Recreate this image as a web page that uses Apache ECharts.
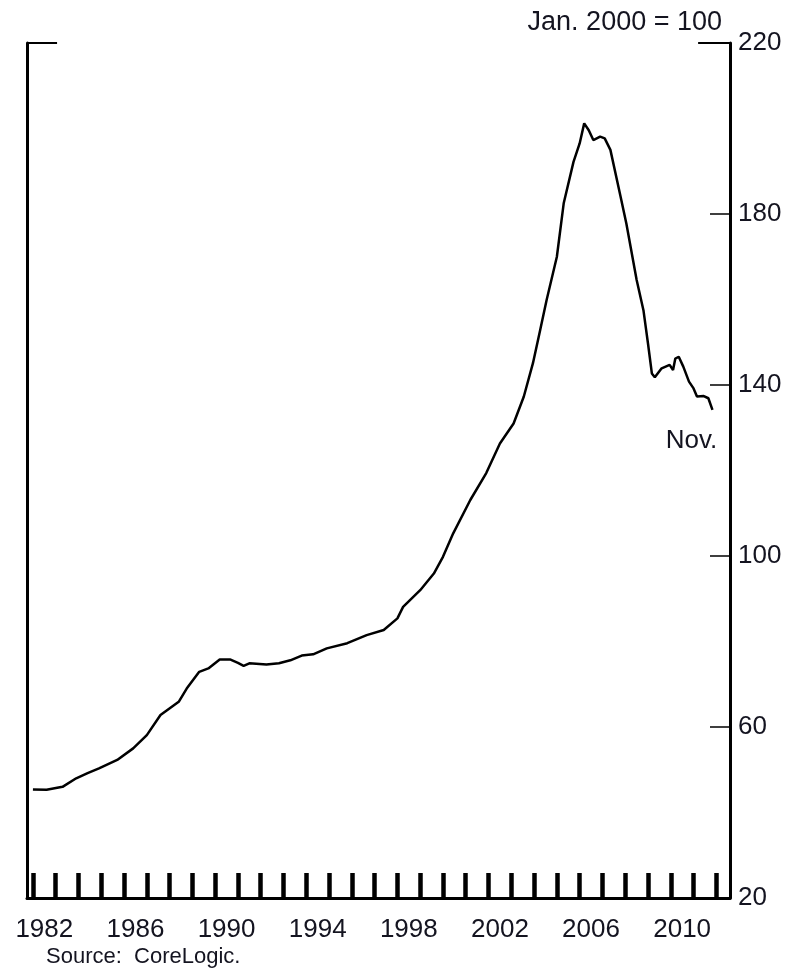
<!DOCTYPE html>
<html>
<head>
<meta charset="utf-8">
<script src="https://cdn.jsdelivr.net/npm/echarts@6/dist/echarts.min.js"></script>
<style>
html,body{margin:0;padding:0;background:#fff;}
#chart{width:808px;height:971px;}
</style>
</head>
<body>
<div id="chart"></div>
<script>
// Decimal-year dates and house price index values (Jan. 2000 = 100)
const dates = [
  1982.0, 1982.6, 1983.3, 1983.9, 1984.4, 1984.9, 1985.7, 1986.4, 1987.0, 1987.6,
  1988.4, 1988.75, 1989.3, 1989.7, 1990.2, 1990.65, 1991.0, 1991.25, 1991.5, 1992.25,
  1992.8, 1993.3, 1993.8, 1994.3, 1994.9, 1995.8, 1996.65, 1997.4, 1998.0, 1998.25,
  1999.0, 1999.6, 2000.0, 2000.45, 2001.2, 2001.9, 2002.5, 2003.1, 2003.55, 2003.95,
  2004.27, 2004.55, 2005.0, 2005.3, 2005.73, 2006.0, 2006.2, 2006.4, 2006.6, 2006.9,
  2007.1, 2007.35, 2007.8, 2008.05, 2008.5, 2008.8, 2009.0, 2009.17, 2009.3, 2009.6,
  2009.95, 2010.1, 2010.2, 2010.35, 2010.55, 2010.8, 2011.0, 2011.15, 2011.45, 2011.65,
  2011.83
];
const values = [
  45.4, 45.3, 46.0, 48.0, 49.2, 50.3, 52.3, 55.0, 58.1, 62.8,
  65.9, 69.0, 72.9, 73.7, 75.8, 75.8, 75.0, 74.3, 74.9, 74.6,
  74.9, 75.6, 76.7, 77.0, 78.4, 79.6, 81.5, 82.7, 85.4, 88.1,
  92.0, 95.9, 99.8, 105.3, 113.1, 119.4, 126.3, 131.0, 137.3, 145.1,
  152.9, 159.9, 170.0, 182.5, 192.2, 196.5, 201.2, 199.6, 197.3, 198.1,
  197.7, 195.0, 184.0, 177.8, 164.6, 157.5, 149.7, 142.7, 141.8, 143.9,
  144.7, 143.5, 146.2, 146.6, 144.3, 140.8, 139.2, 137.3, 137.4, 136.9,
  134.2
];
const tickYears = [];
for (let y = 1982; y <= 2012; y++) tickYears.push(y);
const labelYears = [1982, 1986, 1990, 1994, 1998, 2002, 2006, 2010];
const yTicks = [20, 60, 100, 140, 180, 220];
const unitText = 'Jan. 2000 = 100';
const sourceText = 'Source:  CoreLogic.';
const lastLabel = 'Nov.';

const FONT = 'Liberation Sans, Arial, sans-serif';
const TXT = '#141420';
const X_MIN = 1981.74, X_MAX = 2012.6;

const chart = echarts.init(document.getElementById('chart'), null, {renderer: 'canvas'});
const n = dates.length;
chart.setOption({
  animation: false,
  backgroundColor: '#fff',
  title: [
    {text: unitText, right: 81, top: 4,
     textStyle: {fontFamily: FONT, fontSize: 27, fontWeight: 'normal', color: TXT}},
    {text: sourceText, left: 41, top: 941,
     textStyle: {fontFamily: FONT, fontSize: 22, fontWeight: 'normal', color: TXT}}
  ],
  grid: {left: 27, right: 78, top: 43, bottom: 73, containLabel: false},
  xAxis: {
    type: 'value', min: X_MIN, max: X_MAX,
    axisLine: {show: true, onZero: false, lineStyle: {color: '#000', width: 3}},
    axisTick: {show: true, inside: true, length: 25, customValues: tickYears,
               lineStyle: {color: '#000', width: 4.5}},
    axisLabel: {show: true, margin: 19, customValues: labelYears.map(y => y + 0.5),
                formatter: v => String(Math.floor(v)),
                fontFamily: FONT, fontSize: 26, color: TXT},
    splitLine: {show: false}
  },
  yAxis: [
    {
      type: 'value', position: 'right', min: yTicks[0], max: yTicks[yTicks.length - 1], interval: 40,
      axisLine: {show: true, lineStyle: {color: '#000', width: 3}},
      axisTick: {show: true, inside: true, length: 20, lineStyle: {color: '#000', width: 1.5}},
      axisLabel: {show: true, margin: 8, fontFamily: FONT, fontSize: 26, color: TXT},
      splitLine: {show: false}
    },
    {
      type: 'value', position: 'left', min: yTicks[0], max: yTicks[yTicks.length - 1], interval: 40,
      axisLine: {show: true, lineStyle: {color: '#000', width: 3}},
      axisTick: {show: false}, axisLabel: {show: false}, splitLine: {show: false}
    }
  ],
  series: [{
    type: 'line',
    yAxisIndex: 0,
    data: dates.map((d, i) => [d, values[i]]),
    showSymbol: false,
    symbol: 'none',
    lineStyle: {color: '#000', width: 2.5},
    markLine: {
      silent: true, symbol: 'none', label: {show: false},
      lineStyle: {color: '#000', width: 2, type: 'solid'},
      data: [
        [{coord: [X_MIN, 220]}, {coord: [1983.06, 220]}],
        [{coord: [2011.2, 220]}, {coord: [X_MAX, 220]}]
      ]
    },
    markPoint: {
      silent: true,
      data: [{
        coord: [dates[n - 1], values[n - 1]], symbol: 'circle', symbolSize: 0,
        label: {show: true, formatter: lastLabel, position: 'bottom', distance: 5, offset: [-21, 13],
                fontFamily: FONT, fontSize: 26, color: TXT}
      }]
    }
  }]
});
</script>
</body>
</html>
